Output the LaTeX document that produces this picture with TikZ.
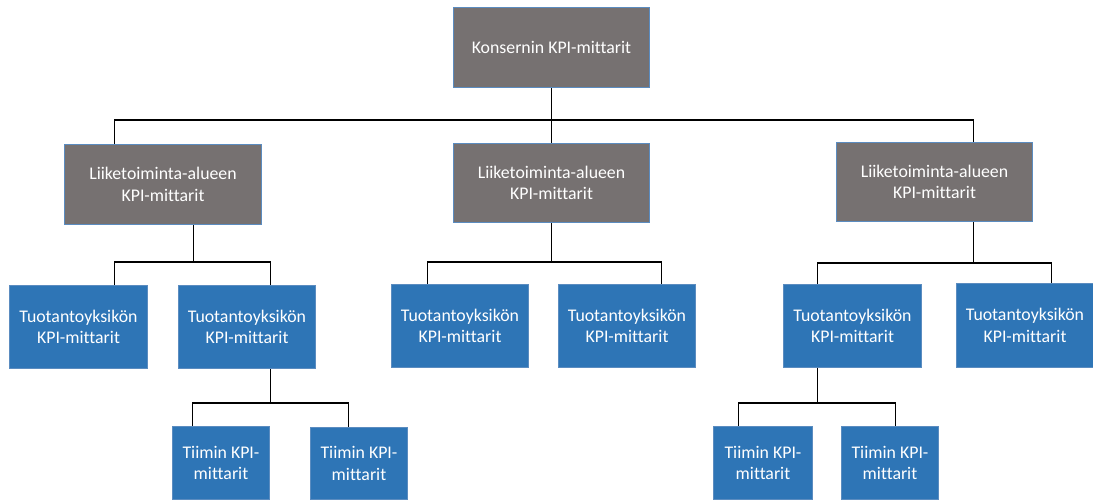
\documentclass[tikz,border=0pt]{standalone}
\usepackage{fontspec}
\setmainfont[Ligatures=NoCommon]{Carlito}
\usetikzlibrary{positioning}

\definecolor{areagrey}{HTML}{767171}
\definecolor{unitblue}{HTML}{2E75B6}
\definecolor{edgeblue}{HTML}{5B8CC0}

\begin{document}
\begin{tikzpicture}[
    x=1pt, y=-1pt,
    kpibox/.style={rectangle, draw=edgeblue, line width=1pt, anchor=north west, inner sep=0pt,
      align=center, text=white, font=\fontsize{17.8}{21.7}\selectfont},
    groupbox/.style={kpibox, fill=areagrey, minimum width=196pt, minimum height=80pt},
    unitbox/.style={kpibox, fill=unitblue, minimum width=137pt, minimum height=83pt},
    teambox/.style={kpibox, fill=unitblue, minimum width=97pt, minimum height=73pt},
    link/.style={draw=black, line width=1.2pt}
  ]
    \useasboundingbox (0,0) rectangle (1093,499);

    % Level 1: group
    \node[groupbox] (top) at (453,7) {Konsernin KPI-mittarit};

    % Level 2: business areas
    \node[groupbox, minimum width=197pt] (areaL) at (64,144) {Liiketoiminta-alueen\\KPI-mittarit};
    \node[groupbox, minimum height=79pt] (areaM) at (453,143) {Liiketoiminta-alueen\\KPI-mittarit};
    \node[groupbox, minimum height=79pt] (areaR) at (836,142) {Liiketoiminta-alueen\\KPI-mittarit};

    % Level 3: production units
    \node[unitbox, minimum width=138pt] (unitL1) at (9,285) {Tuotantoyksikön\\KPI-mittarit};
    \node[unitbox] (unitL2) at (178,285) {Tuotantoyksikön\\KPI-mittarit};
    \node[unitbox] (unitM1) at (391,284) {Tuotantoyksikön\\KPI-mittarit};
    \node[unitbox] (unitM2) at (558,284) {Tuotantoyksikön\\KPI-mittarit};
    \node[unitbox, minimum width=138pt] (unitR1) at (783,284) {Tuotantoyksikön\\KPI-mittarit};
    \node[unitbox, minimum height=84pt] (unitR2) at (956,283) {Tuotantoyksikön\\KPI-mittarit};

    % Level 4: teams
    \node[teambox] (teamL1) at (172,426) {Tiimin KPI-\\mittarit};
    \node[teambox, minimum height=72pt] (teamL2) at (310,427) {Tiimin KPI-\\mittarit};
    \node[teambox, minimum width=99pt] (teamR1) at (713,426) {Tiimin KPI-\\mittarit};
    \node[teambox] (teamR2) at (841,426) {Tiimin KPI-\\mittarit};

    % Links from the group
    \draw[link] (top.south) -- ++(0,32) -| ([xshift=-48.5]areaL.north);
    \draw[link] (top.south) -- (areaM.north);
    \draw[link] (top.south) -- ++(0,32) -| ([xshift=39]areaR.north);

    % Links from the business areas
    \draw[link] ([xshift=30.5]areaL.south) -- ++(0,37) -| ([xshift=36]unitL1.north);
    \draw[link] ([xshift=30.5]areaL.south) -- ++(0,37) -| ([xshift=23.5]unitL2.north);
    \draw[link] (areaM.south) -- ++(0,39) -| ([xshift=-32.5]unitM1.north);
    \draw[link] (areaM.south) -- ++(0,39) -| ([xshift=34.5]unitM2.north);
    \draw[link] ([xshift=39]areaR.south) -- ++(0,41) -| ([xshift=-35]unitR1.north);
    \draw[link] ([xshift=39]areaR.south) -- ++(0,41) -| ([xshift=26.5]unitR2.north);

    % Links from the production units
    \draw[link] ([xshift=23.5]unitL2.south) -- ++(0,34) -| ([xshift=-28.5]teamL1.north);
    \draw[link] ([xshift=23.5]unitL2.south) -- ++(0,34) -| ([xshift=-10.5]teamL2.north);
    \draw[link] ([xshift=-35]unitR1.south) -- ++(0,35) -| ([xshift=-24.5]teamR1.north);
    \draw[link] ([xshift=-35]unitR1.south) -- ++(0,35) -| ([xshift=5.5]teamR2.north);
  \end{tikzpicture}
\end{document}
